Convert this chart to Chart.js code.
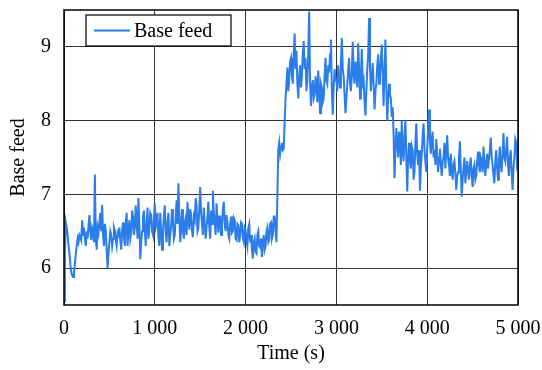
<!DOCTYPE html>
<html><head><meta charset="utf-8">
<script src="https://cdn.jsdelivr.net/npm/chart.js@4.4.0/dist/chart.umd.min.js"></script>
<style>html,body{margin:0;padding:0;background:#fff}</style>
</head><body>
<canvas id="c" width="542" height="370"></canvas>
<script>
const seriesName = 'Base feed';
const xTitle = 'Time (s)';
const yTitle = 'Base feed';
const timeStart = 0;
const timeStep = 10;
const baseFeed = [
  5.55, 6.2, 6.62, 6.55, 6.45, 6.3, 6.2, 6.05, 5.95, 5.9, 5.88, 5.95, 6.05, 6.2, 6.3, 6.4, 6.35, 6.45, 6.42, 6.38,
  6.65, 6.45, 6.55, 6.4, 6.3, 6.5, 6.4, 6.58, 6.72, 6.5, 6.38, 6.55, 6.5, 6.35, 7.27, 6.4, 6.25, 6.55, 6.48, 6.62,
  6.75, 6.5, 6.86, 6.45, 6.3, 6.6, 6.52, 6.25, 6.0, 6.2, 6.35, 6.5, 6.45, 6.3, 6.4, 6.55, 6.5, 6.38, 6.3, 6.48,
  6.45, 6.55, 6.38, 6.25, 6.5, 6.62, 6.42, 6.3, 6.6, 6.75, 6.3, 6.5, 6.65, 6.4, 6.48, 6.78, 6.7, 6.45, 6.55, 6.85,
  6.62, 6.4, 6.95, 6.6, 6.12, 6.35, 6.5, 6.7, 6.78, 6.52, 6.3, 6.6, 6.82, 6.4, 6.55, 6.75, 6.72, 6.5, 6.45, 6.65,
  6.88, 6.55, 6.6, 6.75, 6.42, 6.3, 6.75, 6.5, 6.25, 6.5, 6.7, 6.85, 6.48, 6.35, 6.62, 6.75, 6.3, 6.45, 6.58, 6.8,
  6.65, 6.4, 6.45, 6.7, 6.92, 6.6, 7.15, 6.7, 6.35, 6.55, 6.8, 6.5, 6.4, 6.62, 6.68, 6.45, 6.9, 6.7, 6.52, 6.8,
  6.72, 6.5, 6.42, 6.7, 6.65, 6.95, 6.85, 6.5, 6.55, 6.8, 7.1, 6.75, 6.6, 6.45, 6.82, 6.6, 6.4, 6.55, 6.7, 6.9,
  6.55, 6.4, 6.78, 6.6, 7.05, 6.75, 6.62, 6.45, 6.88, 6.65, 6.48, 6.7, 6.7, 6.45, 6.58, 6.8, 6.9, 6.6, 6.5, 6.72,
  6.62, 6.45, 6.4, 6.6, 6.7, 6.48, 6.5, 6.68, 6.65, 6.4, 6.38, 6.6, 6.58, 6.35, 6.45, 6.62, 6.6, 6.4, 6.35, 6.55,
  6.52, 6.38, 6.3, 6.55, 6.6, 6.35, 6.45, 6.25, 6.13, 6.35, 6.4, 6.22, 6.2, 6.45, 6.5, 6.3, 6.28, 6.4, 6.15, 6.35,
  6.45, 6.25, 6.3, 6.5, 6.55, 6.35, 6.38, 6.6, 6.62, 6.4, 6.45, 6.7, 6.7, 6.5, 6.35, 7.0, 7.6, 7.7, 7.55, 7.65,
  7.7, 7.6, 7.62, 8.0, 8.3, 8.5, 8.72, 8.4, 8.55, 8.8, 8.85, 8.6, 8.5, 8.9, 9.18, 8.7, 8.95, 8.5, 8.3, 8.6,
  8.75, 8.45, 8.6, 8.9, 9.08, 8.7, 8.85, 8.4, 8.55, 8.9, 9.48, 8.5, 8.2, 8.45, 8.55, 8.3, 8.35, 8.6, 8.5, 8.25,
  8.68, 8.4, 8.1, 8.5, 8.45, 8.25, 8.3, 8.6, 8.85, 8.55, 8.5, 8.75, 8.65, 8.9, 9.1, 8.4, 8.08, 8.45, 8.7, 8.55,
  8.55, 8.4, 8.75, 8.6, 8.45, 8.8, 9.12, 8.7, 8.6, 8.35, 8.1, 8.3, 8.5, 8.7, 8.85, 8.5, 8.4, 8.65, 9.07, 8.6,
  8.5, 8.8, 8.65, 8.45, 9.05, 8.7, 8.3, 8.6, 8.97, 8.5, 8.55, 8.25, 8.07, 8.4, 8.7, 8.9, 9.39, 8.7, 8.4, 8.6,
  8.78, 8.5, 8.15, 8.4, 8.5, 8.75, 8.9, 8.5, 8.6, 8.85, 9.03, 8.6, 8.2, 8.7, 9.1, 8.45, 8.0, 8.3, 8.5, 8.35,
  8.3, 8.05, 8.18, 7.8, 7.22, 7.6, 7.9, 7.7, 7.5, 7.85, 7.75, 7.4, 8.0, 7.6, 7.45, 7.8, 8.0, 7.5, 7.04, 7.5,
  7.7, 7.45, 7.35, 7.65, 7.6, 7.2, 7.3, 7.7, 7.96, 7.55, 7.4, 7.6, 7.05, 7.35, 7.55, 7.8, 7.96, 7.6, 7.45, 7.3,
  7.62, 7.9, 8.15, 7.7, 7.55, 7.75, 7.85, 7.5, 7.6, 7.4, 7.75, 7.55, 7.3, 7.5, 7.62, 7.4, 7.25, 7.45, 7.5, 7.7,
  7.35, 7.55, 7.8, 7.5, 7.4, 7.25, 7.55, 7.35, 7.2, 7.4, 7.45, 7.3, 7.06, 7.25, 7.3, 7.5, 7.72, 7.35, 6.97, 7.2,
  7.35, 7.5, 7.15, 7.3, 7.45, 7.3, 7.2, 7.4, 7.5, 7.25, 7.1, 7.35, 7.4, 7.2, 7.25, 7.45, 7.58, 7.4, 7.3, 7.5,
  7.45, 7.3, 7.65, 7.45, 7.25, 7.4, 7.55, 7.35, 7.35, 7.6, 7.77, 7.5, 7.4, 7.25, 7.15, 7.45, 7.6, 7.35, 7.2, 7.45,
  7.65, 7.4, 7.3, 7.55, 7.83, 7.5, 7.45, 7.6, 7.78, 7.4, 7.25, 7.5, 7.6, 7.3, 7.06, 7.35, 7.5, 7.75, 7.7, 7.4,
  7.45
];
const xTicks = [0, 1000, 2000, 3000, 4000, 5000];
const yTicks = [6, 7, 8, 9];
const xRange = [0, 5000];
const yRange = [5.5, 9.5];

const points = baseFeed.map((v, i) => ({ x: timeStart + i * timeStep, y: v }));
const FONT = 'Liberation Serif, "Times New Roman", serif';
const fmt = v => String(v).replace(/\B(?=(\d{3})+(?!\d))/g, ' ');

const framePlugin = {
  id: 'frame',
  afterDraw(chart) {
    const { ctx, chartArea: a } = chart;
    ctx.save();
    ctx.strokeStyle = '#000';
    ctx.lineWidth = 1.5;
    ctx.strokeRect(a.left, a.top, a.right - a.left, a.bottom - a.top);
    const bx = a.left + 22, by = a.top + 5, bw = 145, bh = 31;
    ctx.fillStyle = '#fff';
    ctx.fillRect(bx, by, bw, bh);
    ctx.lineWidth = 1.2;
    ctx.strokeRect(bx, by, bw, bh);
    const ds = chart.data.datasets[0];
    ctx.strokeStyle = ds.borderColor;
    ctx.lineWidth = 2;
    ctx.beginPath();
    ctx.moveTo(bx + 8, by + bh / 2);
    ctx.lineTo(bx + 44, by + bh / 2);
    ctx.stroke();
    ctx.fillStyle = '#000';
    ctx.font = '20px ' + FONT;
    ctx.textBaseline = 'middle';
    ctx.textAlign = 'left';
    ctx.fillText(ds.label, bx + 48, by + bh / 2 + 1);
    ctx.restore();
  }
};

new Chart(document.getElementById('c'), {
  type: 'line',
  data: {
    datasets: [{
      label: seriesName,
      data: points,
      borderColor: '#2b7de9',
      borderWidth: 2,
      pointRadius: 0,
      tension: 0,
      fill: false
    }]
  },
  options: {
    responsive: false,
    animation: false,
    devicePixelRatio: 1,
    layout: { padding: { top: 10, right: 24, left: 3, bottom: 0 } },
    plugins: { legend: { display: false }, tooltip: { enabled: false } },
    scales: {
      x: {
        type: 'linear',
        min: xRange[0], max: xRange[1],
        afterBuildTicks: s => { s.ticks = xTicks.map(v => ({ value: v })); },
        afterFit: s => { s.height = 65; s.paddingLeft = 0; s.paddingRight = 0; },
        grid: { color: '#333', lineWidth: 1, drawTicks: false },
        border: { display: false },
        ticks: { color: '#000', padding: 12, maxRotation: 0, font: { family: FONT, size: 20 }, callback: v => fmt(v) },
        title: { display: true, text: xTitle, color: '#000', font: { family: FONT, size: 20 }, padding: { top: 5 } }
      },
      y: {
        type: 'linear',
        min: yRange[0], max: yRange[1],
        afterBuildTicks: s => { s.ticks = yTicks.map(v => ({ value: v })); },
        afterFit: s => { s.width = 61; s.paddingTop = 0; s.paddingBottom = 0; },
        grid: { color: '#333', lineWidth: 1, drawTicks: false },
        border: { display: false },
        ticks: { color: '#000', padding: 13, font: { family: FONT, size: 20 } },
        title: { display: true, text: yTitle, color: '#000', font: { family: FONT, size: 20 }, padding: { bottom: 4 } }
      }
    }
  },
  plugins: [framePlugin]
});
</script>
</body></html>
